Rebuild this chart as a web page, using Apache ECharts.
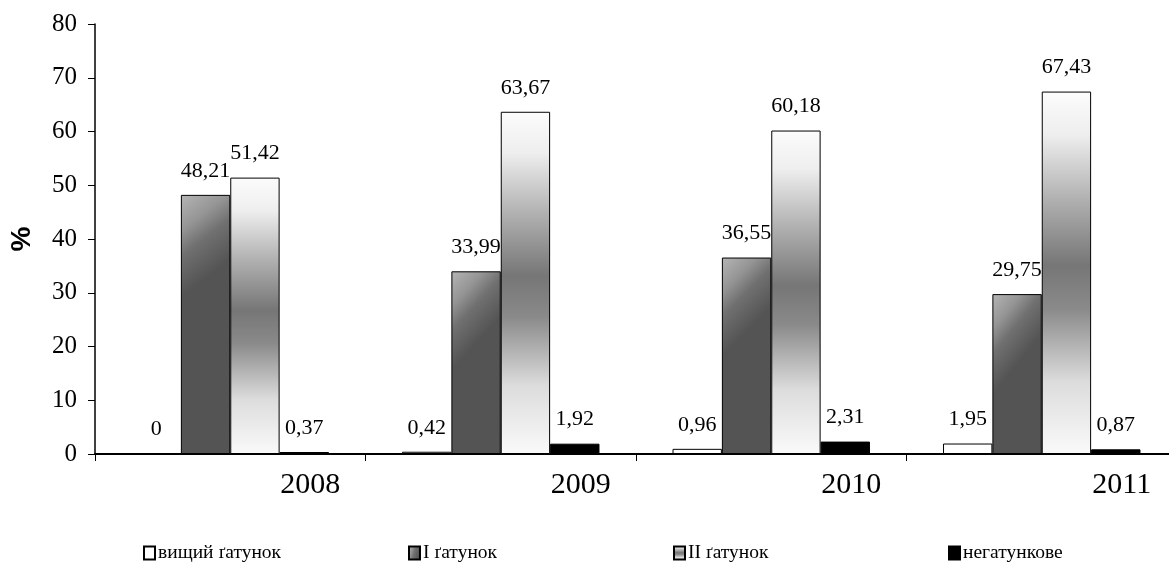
<!DOCTYPE html>
<html>
<head>
<meta charset="utf-8">
<script src="https://cdn.jsdelivr.net/npm/echarts@6/dist/echarts.min.js"></script>
<style>
html,body{margin:0;padding:0;background:#fff;overflow:hidden;}
#chart{width:1177px;height:575px;}
</style>
</head>
<body>
<div id="chart"></div>
<script>
var categories = ['2008', '2009', '2010', '2011'];
var seriesNames = ['вищий ґатунок', 'I ґатунок', 'II ґатунок', 'негатункове'];
var valuesTop = [0, 0.42, 0.96, 1.95];
var valuesFirst = [48.21, 33.99, 36.55, 29.75];
var valuesSecond = [51.42, 63.67, 60.18, 67.43];
var valuesNone = [0.37, 1.92, 2.31, 0.87];
var yTicks = [0, 10, 20, 30, 40, 50, 60, 70, 80];

var serif = '"Liberation Serif", "Times New Roman", serif';

var fills = [
  '#ffffff',
  new echarts.graphic.LinearGradient(0, 0, 1, 0.25, [
    {offset: 0, color: '#b5b5b5'},
    {offset: 0.35, color: '#959595'},
    {offset: 0.6, color: '#707070'},
    {offset: 1, color: '#545454'}
  ]),
  new echarts.graphic.LinearGradient(0, 0, 0, 1, [
    {offset: 0, color: '#fcfcfc'},
    {offset: 0.12, color: '#eeeeee'},
    {offset: 0.3, color: '#b0b0b0'},
    {offset: 0.48, color: '#767676'},
    {offset: 0.6, color: '#8a8a8a'},
    {offset: 0.8, color: '#dcdcdc'},
    {offset: 1, color: '#fafafa'}
  ]),
  '#000000'
];

var dataSets = [valuesTop, valuesFirst, valuesSecond, valuesNone];

function fmt(v) { return String(v).replace('.', ','); }

var series = dataSets.map(function (d, i) {
  return {
    name: seriesNames[i],
    type: 'bar',
    data: d,
    barGap: '0%',
    barCategoryGap: '27%',
    itemStyle: {color: fills[i], borderColor: '#000', borderWidth: 1},
    label: {
      show: true,
      position: 'top',
      distance: 13,
      fontFamily: serif,
      fontSize: 22,
      color: '#000',
      formatter: function (p) { return fmt(p.value); }
    }
  };
});

var legendLefts = [138, 403, 668, 943];
var legends = seriesNames.map(function (n, i) {
  return {
    data: [n],
    left: legendLefts[i],
    top: 538,
    icon: 'rect',
    itemWidth: 11,
    itemHeight: 13,
    itemGap: 4,
    textStyle: {fontFamily: serif, fontSize: 19.5, color: '#000', padding: [0, 0, 0, -2]},
    selectedMode: false
  };
});

var chart = echarts.init(document.getElementById('chart'));
chart.setOption({
  animation: false,
  backgroundColor: '#fff',
  legend: legends,
  grid: {left: 94, right: 0, top: 24, bottom: 121, containLabel: false},
  xAxis: {
    type: 'category',
    data: categories,
    boundaryGap: true,
    axisLine: {lineStyle: {color: '#000', width: 2}},
    axisTick: {show: true, length: 7, inside: false, lineStyle: {color: '#000', width: 1}},
    axisLabel: {
      fontFamily: serif, fontSize: 30, color: '#000', margin: 16,
      padding: [0, 0, 0, 160]
    },
    splitLine: {show: false}
  },
  yAxis: {
    type: 'value',
    min: yTicks[0],
    max: yTicks[yTicks.length - 1],
    interval: 10,
    name: '%',
    nameLocation: 'middle',
    nameRotate: 90,
    nameGap: 59,
    nameTextStyle: {fontFamily: '"Liberation Sans", Arial, sans-serif', fontWeight: 'bold', fontSize: 28, color: '#000'},
    axisLine: {show: true, lineStyle: {color: '#000', width: 1.5}},
    axisTick: {show: true, length: 7, lineStyle: {color: '#000'}},
    axisLabel: {fontFamily: serif, fontSize: 25, color: '#000', margin: 18},
    splitLine: {show: false}
  },
  series: series
});
</script>
</body>
</html>
